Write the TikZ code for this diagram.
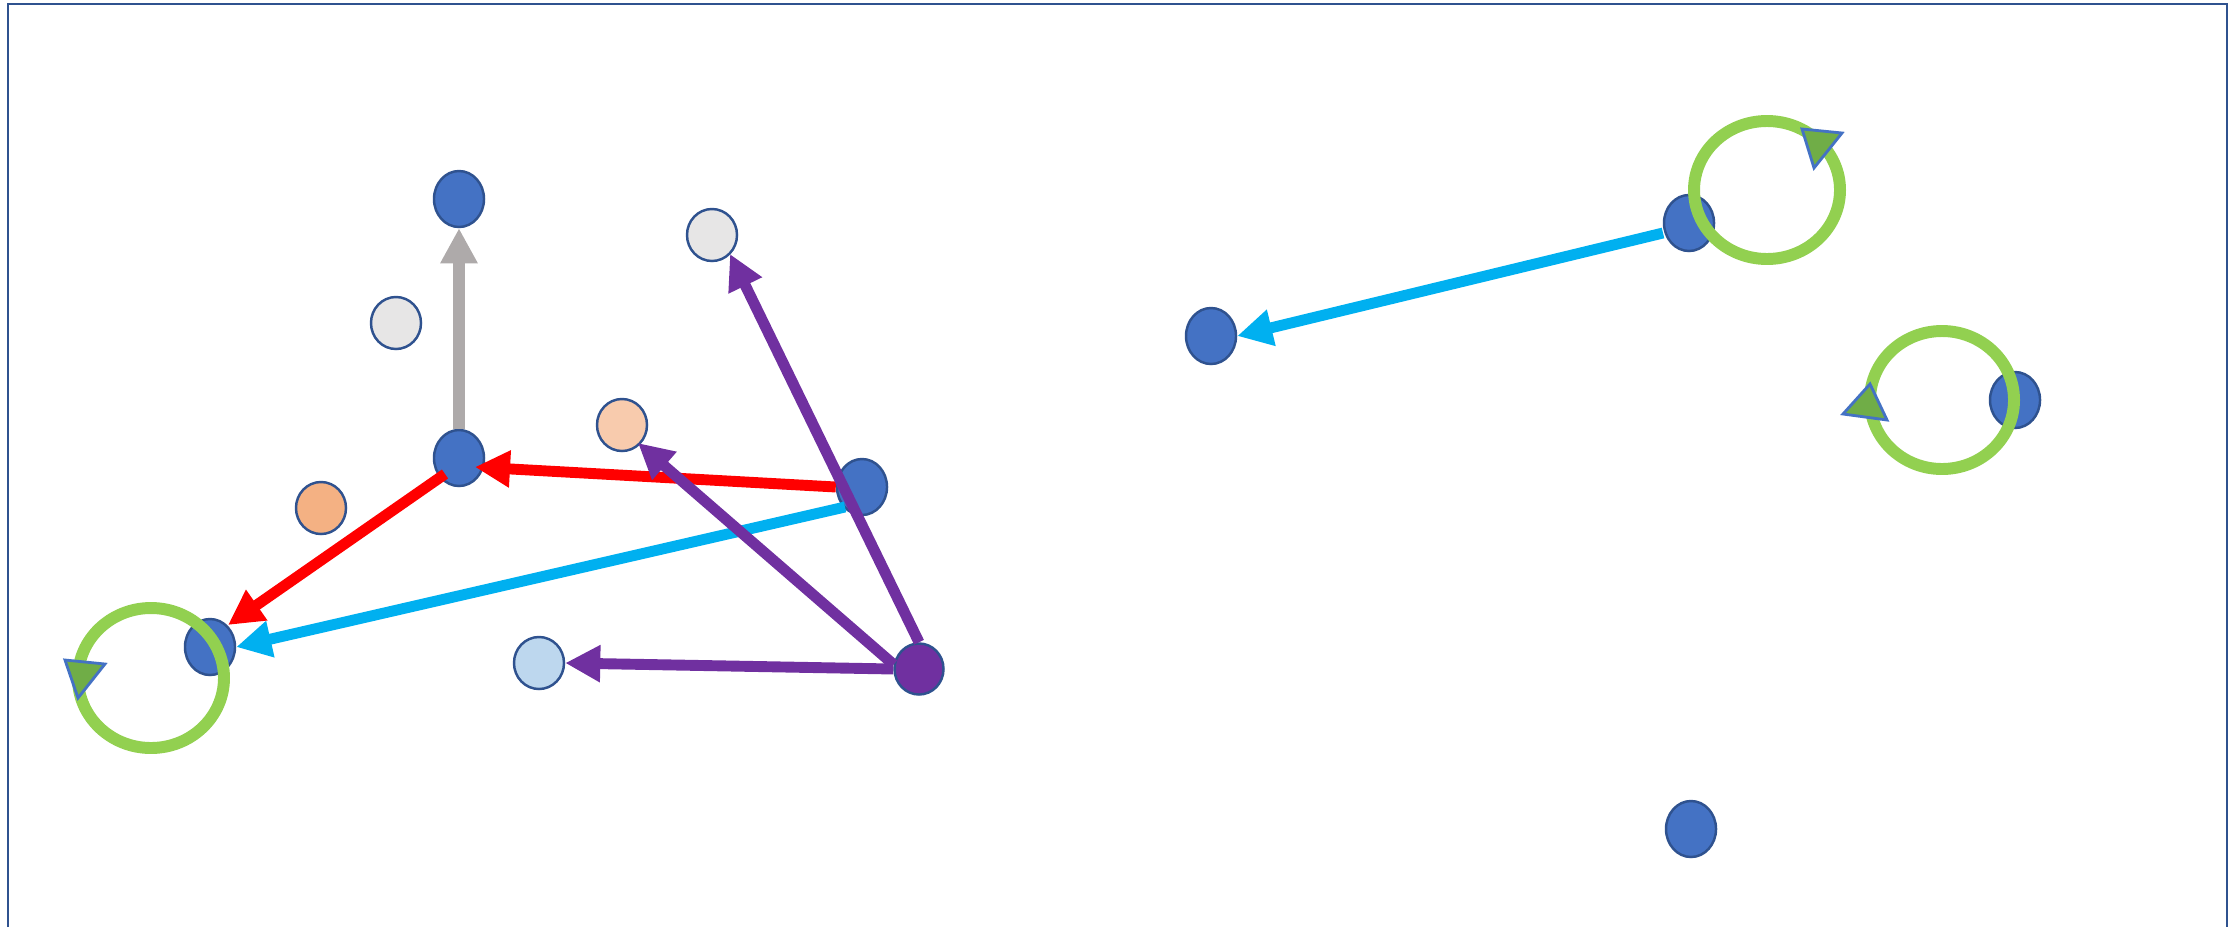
\documentclass[tikz,border=0pt]{standalone}
\usepackage{tikz}
\usetikzlibrary{arrows.meta,shapes.geometric,calc}
\definecolor{dotblue}{HTML}{4472C4}
\definecolor{dotedge}{HTML}{2F528F}
\definecolor{palegray}{HTML}{E7E6E6}
\definecolor{palepeach}{HTML}{F8CBAD}
\definecolor{paleorange}{HTML}{F4B183}
\definecolor{paleblue}{HTML}{BDD7EE}
\definecolor{deeppurple}{HTML}{7030A0}
\definecolor{skycyan}{HTML}{00B0F0}
\definecolor{loopgreen}{HTML}{92D050}
\definecolor{tipgreen}{HTML}{70AD47}
\definecolor{stemgray}{HTML}{AEAAAA}
\tikzset{
  state-dot/.style={ellipse, draw=dotedge, fill=dotblue, line width=0.7pt,
    minimum width=5mm, minimum height=5.6mm, inner sep=0pt},
  state-pale/.style={ellipse, draw=dotedge, line width=0.7pt,
    minimum width=5mm, minimum height=5.2mm, inner sep=0pt},
  move-arrow/.style={-{Triangle[length=3.5mm,width=3.5mm]}, line width=3.1pt},
  self-loop/.style={draw=loopgreen, line width=3.4pt},
  loop-tip/.style={draw=dotblue, fill=tipgreen, line width=0.8pt, line join=miter}
}
\begin{document}
\begin{tikzpicture}[x=0.01cm, y=-0.01cm]
  \useasboundingbox (0,0) rectangle (2237,927);
  % Frame (open at the bottom edge)
  \draw[dotedge, line width=0.6pt] (8,927) -- (8,4) -- (2227,4) -- (2227,927);

  % --- Blue states ---
  \node[state-dot] (top) at (459,199) {};
  \node[state-dot] (mid) at (459,458) {};
  \node[state-dot] (hub) at (862,487) {};
  \node[state-dot] (corner) at (210,647) {};
  \node[state-dot] (far) at (1211,336) {};
  \node[state-dot] (upper) at (1689,223) {};
  \node[state-dot] (side) at (2015,400) {};
  \node[state-dot] (low) at (1691,829) {};

  % --- Pale states ---
  \node[state-pale, fill=palegray] (ghostA) at (396,323) {};
  \node[state-pale, fill=palegray] (ghostB) at (712,235) {};
  \node[state-pale, fill=palepeach] (peach) at (622,425) {};
  \node[state-pale, fill=paleorange] (amber) at (321,508) {};
  \node[state-pale, fill=paleblue] (sky) at (539,663) {};
  \node[state-pale, fill=deeppurple, minimum height=5.1mm, minimum width=4.9mm] (source) at (919,669) {};

  % Gray step up
  \draw[move-arrow, stemgray, line width=3.4pt] (mid.north) -- (top.south);
  % Red moves
  \draw[move-arrow, red] (hub.west) -- ($(mid.center)+(16,9)$);
  \draw[move-arrow, red] ($(mid.center)+(-14,16)$) -- ($(corner.center)+(18,-22)$);
  % Cyan moves
  \draw[move-arrow, skycyan] ($(hub.center)+(-17,20)$) -- (corner.east);
  \draw[move-arrow, skycyan] ($(upper.center)+(-26,10)$) -- (far.east);
  % Purple moves out of the source
  \draw[move-arrow, deeppurple] (source.north) -- ($(ghostB.center)+(18,19)$);
  \draw[move-arrow, deeppurple] (source.170) -- ($(peach.center)+(16,18)$);
  \draw[move-arrow, deeppurple] (source.west) -- (sky.east);

  % Green self loops with their tips
  \draw[self-loop] (151,678) ellipse [x radius=73, y radius=70];
  \draw[loop-tip] (65,660) -- (105,664) -- (78,698) -- cycle;
  \draw[self-loop] (1767,190) ellipse [x radius=73, y radius=69];
  \draw[loop-tip] (1802,129) -- (1842,133) -- (1814,168) -- cycle;
  \draw[self-loop] (1942,400) ellipse [x radius=72, y radius=69];
  \draw[loop-tip] (1870,384) -- (1843,414) -- (1887,420) -- cycle;
\end{tikzpicture}
\end{document}
